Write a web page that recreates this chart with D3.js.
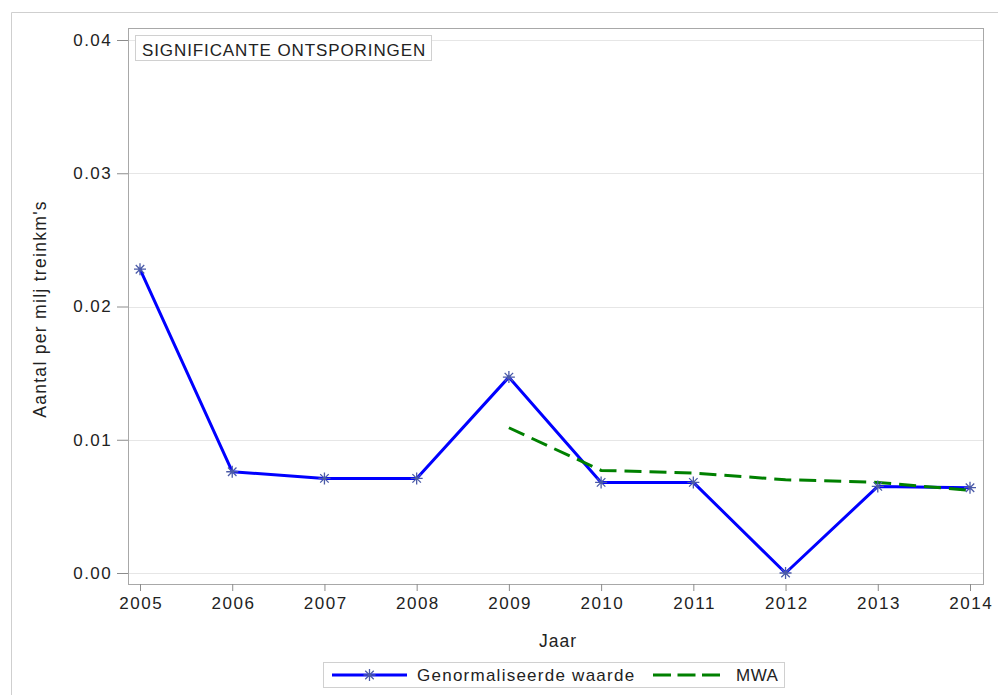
<!DOCTYPE html>
<html>
<head>
<meta charset="utf-8">
<script src="https://cdn.jsdelivr.net/npm/d3@7"></script>
<style>
  body { margin: 0; background: #fff; }
  svg { font-family: "Liberation Sans", Arial, sans-serif; }
</style>
</head>
<body>
<svg id="chart" width="998" height="695"></svg>
<script>
const years = [2005, 2006, 2007, 2008, 2009, 2010, 2011, 2012, 2013, 2014];
const genormaliseerd = [0.0228, 0.0076, 0.0071, 0.0071, 0.0147, 0.0068, 0.0068, 0.0, 0.0065, 0.0064];
const mwaYears = [2009, 2010, 2011, 2012, 2013, 2014];
const mwa = [0.0109, 0.0077, 0.0075, 0.0070, 0.0068, 0.0062];
const yTicks = [0, 0.01, 0.02, 0.03, 0.04];

const svg = d3.select('#chart');
const frame = { left: 128, top: 28, right: 983, bottom: 584 };
const font = '"Liberation Sans", Arial, sans-serif';

const x = d3.scaleLinear().domain([2005, 2014]).range([140, 970]);
const y = d3.scaleLinear().domain([0, 0.04]).range([573, 40]);

// outer border
svg.append('path')
  .attr('d', 'M11.5,700 V12.5 H1000')
  .attr('fill', 'none')
  .attr('stroke', '#cfcfcf');

// gridlines
svg.append('g')
  .selectAll('line')
  .data(yTicks)
  .join('line')
  .attr('x1', frame.left)
  .attr('x2', frame.right)
  .attr('y1', (d) => Math.round(y(d)) + 0.5)
  .attr('y2', (d) => Math.round(y(d)) + 0.5)
  .attr('stroke', '#e6e6e6');

// plot frame
svg.append('rect')
  .attr('x', frame.left + 0.5)
  .attr('y', frame.top + 0.5)
  .attr('width', frame.right - frame.left)
  .attr('height', frame.bottom - frame.top)
  .attr('fill', 'none')
  .attr('stroke', '#a8a8a8');

// axes
const yAxis = (g) =>
  g.attr('transform', `translate(${frame.left},0)`)
    .call(d3.axisLeft(y).tickValues(yTicks).tickFormat(d3.format('.2f')).tickSize(11).tickPadding(5))
    .call((g) => g.select('.domain').remove())
    .call((g) => g.selectAll('.tick line').attr('stroke', '#8c8c8c'))
    .call((g) => g.selectAll('.tick text').attr('font-size', 17).attr('fill', '#222')
      .attr('letter-spacing', 1.4).attr('font-family', font));

const xAxis = (g) =>
  g.attr('transform', `translate(0,${frame.bottom})`)
    .call(d3.axisBottom(x).tickValues(years).tickFormat(d3.format('d')).tickSize(7).tickPadding(6))
    .call((g) => g.select('.domain').remove())
    .call((g) => g.selectAll('.tick line').attr('stroke', '#8c8c8c'))
    .call((g) => g.selectAll('.tick text').attr('font-size', 17).attr('fill', '#222')
      .attr('letter-spacing', 1.5).attr('dx', 0.75).attr('font-family', font));

svg.append('g').call(yAxis);
svg.append('g').call(xAxis);

// axis labels
svg.append('text')
  .attr('transform', 'translate(46,309) rotate(-90)')
  .attr('text-anchor', 'middle')
  .attr('font-size', 17.5)
  .attr('letter-spacing', 1.3)
  .attr('fill', '#222')
  .text("Aantal per milj treinkm's");

svg.append('text')
  .attr('x', 558)
  .attr('y', 647)
  .attr('text-anchor', 'middle')
  .attr('font-size', 17.5)
  .attr('letter-spacing', 1)
  .attr('fill', '#222')
  .text('Jaar');

// inset title
svg.append('rect')
  .attr('x', 135.5)
  .attr('y', 35.5)
  .attr('width', 296)
  .attr('height', 25)
  .attr('fill', '#fff')
  .attr('stroke', '#d0d0d0');
svg.append('text')
  .attr('x', 142)
  .attr('y', 55.5)
  .attr('font-size', 17)
  .attr('letter-spacing', 0.9)
  .attr('fill', '#222')
  .text('SIGNIFICANTE ONTSPORINGEN');

// series
const blueData = years.map((yr, i) => ({ year: yr, value: genormaliseerd[i] }));
const greenData = mwaYears.map((yr, i) => ({ year: yr, value: mwa[i] }));

const line = d3.line()
  .x((d) => x(d.year))
  .y((d) => y(d.value));

svg.append('path')
  .datum(blueData)
  .attr('fill', 'none')
  .attr('stroke', '#0000ff')
  .attr('stroke-width', 3)
  .attr('stroke-linejoin', 'round')
  .attr('d', line);

svg.append('path')
  .datum(greenData)
  .attr('fill', 'none')
  .attr('stroke', '#008000')
  .attr('stroke-width', 3)
  .attr('stroke-dasharray', '17,8')
  .attr('d', line);

// 8-armed asterisk marker
const asterisk = (r) => {
  let p = '';
  for (let k = 0; k < 4; k++) {
    const a = (k * Math.PI) / 4;
    p += `M${-r * Math.cos(a)},${-r * Math.sin(a)}L${r * Math.cos(a)},${r * Math.sin(a)}`;
  }
  return p;
};

svg.append('g')
  .selectAll('path')
  .data(blueData)
  .join('path')
  .attr('transform', (d) => `translate(${x(d.year)},${y(d.value)})`)
  .attr('d', asterisk(6))
  .attr('stroke', '#4a5aa8')
  .attr('stroke-width', 1.3)
  .attr('fill', 'none');

// legend
const lg = svg.append('g');
lg.append('rect')
  .attr('x', 323.5)
  .attr('y', 662.5)
  .attr('width', 461)
  .attr('height', 25)
  .attr('fill', '#fff')
  .attr('stroke', '#d0d0d0');
lg.append('line')
  .attr('x1', 332).attr('x2', 407)
  .attr('y1', 675).attr('y2', 675)
  .attr('stroke', '#0000ff').attr('stroke-width', 3);
lg.append('path')
  .attr('transform', 'translate(369.5,675)')
  .attr('d', asterisk(6))
  .attr('stroke', '#4a5aa8')
  .attr('stroke-width', 1.3)
  .attr('fill', 'none');
lg.append('text')
  .attr('x', 417).attr('y', 681)
  .attr('font-size', 17).attr('letter-spacing', 1.25).attr('fill', '#222')
  .text('Genormaliseerde waarde');
lg.append('line')
  .attr('x1', 653).attr('x2', 720)
  .attr('y1', 675).attr('y2', 675)
  .attr('stroke', '#008000').attr('stroke-width', 3)
  .attr('stroke-dasharray', '18,6.5');
lg.append('text')
  .attr('x', 736).attr('y', 681)
  .attr('font-size', 17).attr('letter-spacing', 0.5).attr('fill', '#222')
  .text('MWA');
</script>
</body>
</html>
